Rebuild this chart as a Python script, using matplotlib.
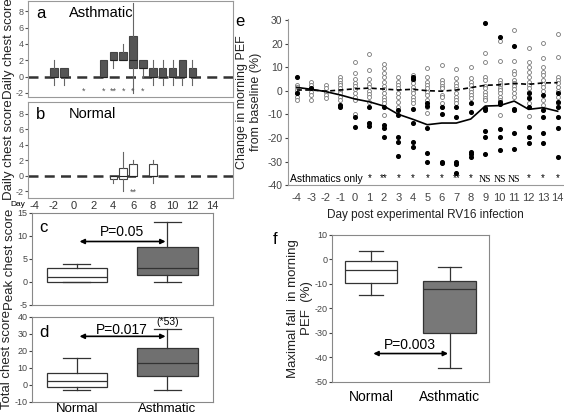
import numpy as np
import matplotlib.pyplot as plt

plt.rcParams['font.family'] = ['Liberation Sans', 'DejaVu Sans']
plt.rcParams['axes.unicode_minus'] = False

# ---- panel a / b : daily chest score (box stats per day) ----
# (day, whislo, q1, med, q3, whishi)
asth_daily = [(-2, -1, 0, 0, 1, 2), (-1, -1, 0, 0, 1, 1), (3, 0, 0, 0, 2, 2),
              (4, 1, 2, 2, 3, 3), (5, 2, 2, 2, 3, 4), (6, -2, 1, 2, 5, 9),
              (7, 0, 1, 1, 2, 2), (8, -1, 0, 0, 1, 2), (9, -1, 0, 0, 1, 2),
              (10, -1, 0, 0, 1, 2), (11, -1, 0, 0, 2, 2), (12, -1, 0, 0, 1, 2)]
norm_daily = [(4, -1, -0.5, 0, 0, 0), (5, -2, -0.5, 0, 1, 3),
              (6, 0, 0, 0, 1.5, 2), (8, -1, 0, 0, 1.5, 2)]
asth_stars = {1: '*', 3: '*', 4: '**', 5: '*', 6: '*', 7: '*'}
norm_stars = {6: '**'}

# ---- panel c / d / f : summary boxes (whislo, q1, med, q3, whishi) ----
groups = ['Normal', 'Asthmatic']
peak_score = [(0, 0, 1, 3, 4), (0, 1.5, 3, 7.5, 13)]
total_score = [(-3, -1, 2, 7, 16), (-3, 5, 13, 22, 33)]
max_fall = [(-14.5, -9.5, -4.5, -0.5, 3.2), (-44.5, -30.2, -12, -9, -3.2)]

# ---- panel e : morning PEF change ----
days = list(range(-4, 15))
mean_asth = [1.4, 0.6, -0.4, -1.8, -3.5, -4.7, -6.5, -10, -12.1, -14.4, -13.7,
             -13.7, -12, -6.5, -6.3, -4.4, -7.9, -7.2, -8.7]
mean_norm = [0.3, 0.3, -0.2, 0.3, 0.8, 1.1, 0.7, 0.3, 0.6, 0, -0.2, 0.3, 1.3,
             2.3, 2.5, 3.1, 2.7, 3.3, 3.4]
open_pts = {
    -4: [2.4, 1.4, 0.3, -1.1, -2.5, -4.0],
    -3: [3.8, 2.4, 1.0, -0.4, -1.8, -4.0],
    -2: [2.4, 1.0, -0.4, -1.8, -3.2],
    -1: [5.6, 4.5, 3.4, 2.3, 1.1, 0, -1.1, -2.5, -4.0],
    0: [12.0, 7.6, 4.8, 3.1, 2.0, 0.6, -0.8, -2.5, -4.0, -10.0],
    1: [15.4, 8.8, 4.8, 2.8, 1.4, 0, -1.4, -2.5, -4.7, -13.8],
    2: [11.2, 9.5, 7.3, 5.6, 3.8, 2.0, 0.6, -0.8, -2.5, -4.0, -5.4, -10.3],
    3: [5.9, 3.8, 2.4, 1.0, -1.1, -2.5, -4.7, -6.8],
    4: [6.6, 5.6, 4.5, 3.1, 1.7, 0.3, -1.1, -2.5, -4.0, -5.4],
    5: [9.5, 5.6, 3.8, 2.4, 1.0, -0.4, -1.8, -4.0, -6.8, -9.6],
    6: [10.9, 4.5, 3.4, 2.0, 1.0, -1.8, -2.5, -5.4, -6.8],
    7: [9.2, 5.2, 3.1, 2.0, 0.6, -0.8, -2.5, -4.0, -5.4],
    8: [9.9, 5.2, 3.8, 2.4, 0.6, -0.4, -1.8, -3.2],
    9: [15.8, 12.3, 5.6, 4.5, 2.0, 1.0, -0.4, -1.8, -3.2, -4.0],
    10: [21.2, 12.6, 4.5, 3.4, 2.4, 1.0, 0.3, -1.1, -2.5, -4.0, -10.3],
    11: [25.7, 12.6, 8.5, 7.1, 4.5, 3.4, 2.0, 0.6, -0.8, -2.5],
    12: [18.2, 12.3, 10.2, 8.1, 5.9, 3.8, 2.4, 1.0, -0.4, -2.5, -5.4, -10.7],
    13: [20.3, 14.0, 10.2, 8.1, 6.6, 4.5, 2.8, 1.4, 0, -4.0, -6.1],
    14: [23.9, 14.4, 5.6, 4.5, 3.1, 1.4, 0, -2.5, -5.4],
}
filled_pts = {
    -4: [5.9, -1.1], -3: [1.0], -2: [], -1: [-6.1, -6.8],
    0: [-11.0, -15.5], 1: [-7.1, -13.6, -15.0],
    2: [-6.8, -14.5, -16.0, -19.5], 3: [-8.2, -10.3, -19.8, -21.6, -27.5],
    4: [5.6, 4.9, -7.9, -13.6, -21.6, -23.7],
    5: [-5.4, -6.5, -15.8, -26.6, -30.1], 6: [-6.8, -10.0, -30.4, -30.8],
    7: [-6.8, -11.0, -30.4, -31.1, -34.7], 8: [-5.4, -8.9, -25.8, -26.8, -28.0],
    9: [28.8, -7.5, -8.2, -16.9, -19.8, -26.8],
    10: [22.9, -4.7, -5.6, -16.4, -19.8, -25.1],
    11: [18.9, -7.8, -8.2, -18.1, -24.9],
    12: [-1.1, -3.2, -6.8, -15.3, -19.5, -22.0],
    13: [-1.8, -8.2, -11.0, -18.1, -22.0],
    14: [-0.8, -4.7, -6.8, -11.0, -16.0, -28.0],
}
sig_labels = ['*', '**', '*', '*', '*', '*', '**', '*', 'NS', 'NS', 'NS',
              '*', '*', '*']

FRAME = '#999999'


def stats(rows):
    return [dict(whislo=lo, q1=q1, med=med, q3=q3, whishi=hi, fliers=[])
            for lo, q1, med, q3, hi in rows]


def daily_panel(ax, rows, face, ylim, stars, letter, title):
    st = [dict(whislo=r[1], q1=r[2], med=r[3], q3=r[4], whishi=r[5], fliers=[])
          for r in rows]
    ax.axhline(0, color='#333333', lw=1.8, ls=(0, (4, 2.5)), zorder=1)
    ax.bxp(st, positions=[r[0] for r in rows], widths=0.75, patch_artist=True,
           showcaps=False,
           boxprops=dict(facecolor=face, edgecolor='#444444', lw=0.8),
           medianprops=dict(color='#222222', lw=0.8),
           whiskerprops=dict(color='#666666', lw=0.8), manage_ticks=False)
    for d, s in stars.items():
        ax.text(d, ylim[0] + 0.7, s, ha='center', va='center', fontsize=6.5,
                color='#555555')
    ax.set_xlim(-4.6, 16.1)
    ax.set_ylim(*ylim)
    ax.set_yticks([-2, 0, 2, 4, 6, 8])
    ax.tick_params(axis='y', labelsize=6.5, length=2, colors='#555555', pad=1)
    ax.set_ylabel('Daily chest score', fontsize=9.5, labelpad=1, color='#222222')
    ax.text(0.04, 0.87, letter, transform=ax.transAxes, fontsize=12, va='center')
    ax.text(0.2, 0.87, title, transform=ax.transAxes, fontsize=10.5, va='center')
    for sp in ax.spines.values():
        sp.set_color(FRAME)


def summary_panel(ax, rows, ylim, yticks, ylabel, ysize=9.5):
    ax.bxp(stats(rows), positions=[1, 2], widths=0.67, patch_artist=True,
           boxprops=dict(lw=0.9, edgecolor='#333333'),
           medianprops=dict(color='#333333', lw=0.9),
           whiskerprops=dict(color='#333333', lw=0.9),
           capprops=dict(color='#333333', lw=0.9), capwidths=0.3)
    ax.patches[0].set_facecolor('white')
    ax.patches[1].set_facecolor('#707070')
    ax.set_xlim(0.5, 2.5)
    ax.set_ylim(*ylim)
    ax.set_yticks(yticks)
    ax.tick_params(axis='y', labelsize=6.5, length=2, pad=1, colors='#444444')
    ax.set_ylabel(ylabel, fontsize=ysize, labelpad=1, color='#222222')
    for sp in ax.spines.values():
        sp.set_color('#888888')


def arrow(ax, y, text, ty, size=10):
    ax.annotate('', xy=(1.03, y), xytext=(1.98, y),
                arrowprops=dict(arrowstyle='<|-|>', color='black', lw=1.2,
                                mutation_scale=7, shrinkA=0, shrinkB=0))
    ax.text(1.5, ty, text, ha='center', va='center', fontsize=size)


fig = plt.figure(figsize=(5.64, 4.16), dpi=100)

ax_a = fig.add_axes([0.050, 0.767, 0.363, 0.231])
daily_panel(ax_a, asth_daily, '#555555', (-2.5, 9.3), asth_stars, 'a', 'Asthmatic')
ax_a.set_xticks([])

ax_b = fig.add_axes([0.050, 0.524, 0.363, 0.231])
daily_panel(ax_b, norm_daily, 'white', (-2.9, 9.5), norm_stars, 'b', 'Normal')
ax_b.set_xticks(range(-4, 15, 2))
ax_b.tick_params(axis='x', length=0, labelsize=8, pad=2, colors='#333333')
fig.text(10 / 564, 1 - 204 / 416, 'Day', fontsize=6, ha='left', va='center')

ax_c = fig.add_axes([0.056, 0.267, 0.321, 0.221])
summary_panel(ax_c, peak_score, (-5, 15), [-5, 0, 5, 10, 15], 'Peak chest score')
ax_c.set_xticks([])
arrow(ax_c, 8.8, 'P=0.05', 10.8)
ax_c.text(0.04, 0.84, 'c', transform=ax_c.transAxes, fontsize=12, va='center')

ax_d = fig.add_axes([0.056, 0.034, 0.321, 0.204])
summary_panel(ax_d, total_score, (-10, 40), [-10, 0, 10, 20, 30, 40],
              'Total chest score')
ax_d.set_xticks([1, 2])
ax_d.set_xticklabels(groups, fontsize=9.5)
ax_d.tick_params(axis='x', length=0, pad=1)
arrow(ax_d, 28.6, 'P=0.017', 32.2)
ax_d.text(2, 37.3, '(*53)', ha='center', va='center', fontsize=7.5)
ax_d.text(0.04, 0.82, 'd', transform=ax_d.transAxes, fontsize=12, va='center')

ax_e = fig.add_axes([0.511, 0.555, 0.488, 0.400])
for d in days:
    ys = open_pts.get(d, [])
    ax_e.scatter([d] * len(ys), ys, s=8, facecolors='white',
                 edgecolors='#777777', linewidths=0.6, zorder=2)
    yf = filled_pts.get(d, [])
    ax_e.scatter([d] * len(yf), yf, s=7, color='black', zorder=3)
ax_e.plot(days, mean_asth, color='black', lw=1.2, zorder=4)
ax_e.plot(days, mean_norm, color='black', lw=1.2, ls=(0, (3, 2)), zorder=4)
for d, s in zip(range(1, 15), sig_labels):
    if s == 'NS':
        ax_e.text(d, -37.6, s, ha='center', va='center', fontsize=7,
                  family='Liberation Serif')
    else:
        ax_e.text(d, -37.2, s, ha='center', va='center', fontsize=7)
ax_e.text(-4.45, -37.6, 'Asthmatics only', ha='left', va='center', fontsize=7.5)
ax_e.set_xlim(-4.6, 14.4)
ax_e.set_ylim(-40, 30.5)
ax_e.set_yticks(range(-40, 31, 10))
ax_e.set_xticks(days)
ax_e.tick_params(axis='both', labelsize=7.5, length=2, pad=2, colors='#444444')
ax_e.tick_params(axis='x', length=0, pad=6, labelsize=8)
ax_e.spines['top'].set_visible(False)
ax_e.spines['right'].set_visible(False)
ax_e.spines['left'].set_color('#999999')
ax_e.spines['bottom'].set_color('#999999')
ax_e.set_ylabel('Change in morning PEF\nfrom baseline (%)', fontsize=9,
                labelpad=4, color='#222222')
ax_e.set_xlabel('Day post experimental RV16 infection', fontsize=8.5,
                labelpad=4, color='#222222')
fig.text(240 / 564, 1 - 22 / 416, 'e', fontsize=12, ha='center', va='center')

ax_f = fig.add_axes([0.588, 0.0825, 0.279, 0.353])
summary_panel(ax_f, max_fall, (-50, 10), range(-50, 11, 10),
              'Maximal fall  in morning\nPEF  (%)')
ax_f.patches[1].set_facecolor('#787878')
ax_f.set_xticks([1, 2])
ax_f.set_xticklabels(groups, fontsize=10)
ax_f.tick_params(axis='x', length=0, pad=6)
arrow(ax_f, -38.5, 'P=0.003', -35.2)
fig.text(275 / 564, 1 - 240 / 416, 'f', fontsize=12, ha='center', va='center')

fig.savefig('out.png', dpi=100)
